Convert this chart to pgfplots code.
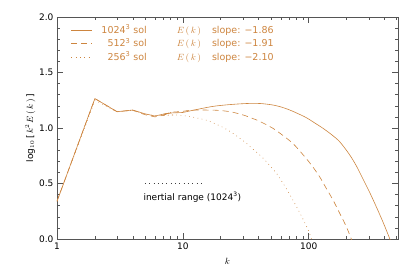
\documentclass[border=0pt]{standalone}
\usepackage{fontspec}
\setmainfont{DejaVu Sans}
\usepackage{pgfplots}
\pgfplotsset{compat=1.18}
\definecolor{cLine}{RGB}{205,133,63}
\definecolor{cAx}{RGB}{85,85,85}
\begin{document}
\begin{tikzpicture}
\begin{axis}[
  scale only axis, width=341pt, height=222pt,
  xmode=log, xmin=1, xmax=512, ymin=0, ymax=2,
  xtick={1,10,100}, xticklabels={1,10,100},
  minor xtick={2,3,4,5,6,7,8,9,20,30,40,50,60,70,80,90,200,300,400,500},
  ytick={0,0.5,1,1.5,2}, minor y tick num=4,
  yticklabel style={/pgf/number format/.cd,fixed,fixed zerofill,precision=1},
  /pgf/number format/assume math mode=true,
  tick label style={font=\fontsize{9}{10}\selectfont},
  tick align=inside, major tick length=6pt, minor tick length=3pt,
  axis line style={cAx, line width=0.6pt},
  every tick/.style={cAx, line width=0.5pt},
  xlabel={$k$}, ylabel={log$_{10}$\,[\,$k^2\,E\,(\,k\,)$\,]},
  label style={font=\fontsize{9}{10}\selectfont},
  xlabel style={yshift=-2pt},
  ylabel style={yshift=-3pt},
  legend style={draw=none, fill=none, at={(rel axis cs:0,1)}, anchor=north west,
    xshift=14pt, yshift=-8.4pt, inner sep=0pt, row sep=4.1pt, column sep=8pt,
    font=\fontsize{9.5}{11}\selectfont, text=cLine,
    nodes={inner sep=0pt, text height=8pt, text depth=1.2pt},
    cells={anchor=west}},
  legend image code/.code={\draw[#1] (0pt,0pt) -- (21pt,0pt);},
  clip mode=individual,
]
% 1024^3
\addplot[cLine, line width=0.6pt] coordinates {
(1,0.34) (2,1.265) (3,1.147) (4,1.162) (5,1.128) (6,1.108) (7,1.125) (8,1.135)};
\addlegendentry{\makebox[46pt][r]{1024\textsuperscript{3} sol}\hspace{30pt}$E\,(\,k\,)$\hspace{11pt}slope: −1.86}
\addplot[cLine, line width=0.6pt, smooth, tension=0.5, forget plot] coordinates {
(7,1.125) (8,1.135)
(10,1.14) (11.3,1.153) (14,1.175) (17.4,1.195) (22,1.208) (28,1.217) (35,1.222)
(42,1.22) (52,1.207) (61,1.188) (70.7,1.162) (82,1.13) (95.8,1.093) (110,1.05)
(130,0.997) (150,0.945) (176,0.877) (211,0.76) (240,0.655) (270,0.54) (305,0.42)
(344,0.291) (390,0.15) (439,0.006) (460,-0.06)};
% 512^3
\addplot[cLine, line width=0.6pt, dash pattern=on 6pt off 4pt] coordinates {
(1,0.34) (2,1.265) (3,1.147) (4,1.16) (5,1.12) (6,1.10) (7,1.115) (8,1.14)};
\addlegendentry{\makebox[46pt][r]{512\textsuperscript{3} sol}\hspace{30pt}$E\,(\,k\,)$\hspace{11pt}slope: −1.91}
\addplot[cLine, line width=0.6pt, dash pattern=on 6pt off 4pt, smooth, tension=0.5, forget plot] coordinates {
(7,1.115) (8,1.14)
(10,1.15) (11.4,1.16) (14,1.162) (18.5,1.16) (22,1.152) (25,1.142) (31,1.113)
(36,1.085) (40.8,1.06) (52,0.997) (62.5,0.932) (75,0.86) (90,0.76) (105,0.667)
(122,0.561) (139,0.449) (156,0.351) (178,0.222) (199,0.111) (218,0.0) (230,-0.07)};
% 256^3
\addplot[cLine, line width=0.6pt, dash pattern=on 0.7pt off 3.6pt] coordinates {
(1,0.34) (2,1.25) (3,1.145) (4,1.16) (5,1.125) (6,1.11) (7,1.115) (8.4,1.117)};
\addlegendentry{\makebox[46pt][r]{256\textsuperscript{3} sol}\hspace{30pt}$E\,(\,k\,)$\hspace{11pt}slope: −2.10}
\addplot[cLine, line width=0.6pt, dash pattern=on 0.7pt off 3.6pt, smooth, tension=0.5, forget plot] coordinates {
(7,1.115) (8.4,1.117)
(9.5,1.115) (11.4,1.102) (13,1.09) (15.4,1.07) (17.5,1.045) (19.6,1.02) (21.5,0.997)
(25,0.952) (28.5,0.905) (32,0.862) (35,0.822) (40.8,0.757) (45,0.71) (49,0.662)
(52,0.63) (56,0.585) (62.5,0.502) (70,0.41) (80,0.291) (90,0.18) (99,0.081)
(103,0.03) (108,-0.04)};
% inertial range marker
\addplot[black!75, line width=0.6pt, dash pattern=on 0.7pt off 3.6pt, forget plot] coordinates {(5,0.5) (14.5,0.5)};
\node[anchor=west, inner sep=0pt, font=\fontsize{9}{10}\selectfont] at (axis cs:4.85,0.378) {inertial range (1024\textsuperscript{3})};
\coordinate (bl) at (rel axis cs:0,0);
\coordinate (tr) at (rel axis cs:1,1);
\end{axis}
\path ([shift={(-57pt,-37pt)}]bl) rectangle ([shift={(17pt,17pt)}]tr);
\end{tikzpicture}
\end{document}
